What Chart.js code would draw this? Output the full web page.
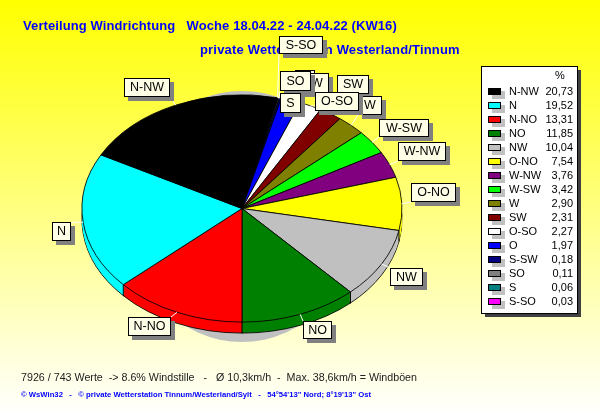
<!DOCTYPE html>
<html>
<head>
<meta charset="utf-8">
<title>Verteilung Windrichtung</title>
<script src="https://cdn.jsdelivr.net/npm/chart.js@4/dist/chart.umd.min.js"></script>
<style>
  html, body { margin: 0; padding: 0; overflow: hidden; }
  body { width: 600px; height: 415px; background: linear-gradient(#ffff00, #ffffff); }
  canvas { display: block; }
</style>
</head>
<body>
<canvas id="windChart" width="600" height="415"></canvas>
<script>
const directions = ['N-NW', 'N', 'N-NO', 'NO', 'NW', 'O-NO', 'W-NW', 'W-SW', 'W', 'SW', 'O-SO', 'O', 'S-SW', 'SO', 'S', 'S-SO'];
const percents = [20.73, 19.52, 13.31, 11.85, 10.04, 7.54, 3.76, 3.42, 2.90, 2.31, 2.27, 1.97, 0.18, 0.11, 0.06, 0.03];
const colors = ['#000000', '#00ffff', '#ff0000', '#008000', '#c0c0c0', '#ffff00', '#800080', '#00ff00', '#808000', '#800000', '#ffffff', '#0000ff', '#000080', '#808080', '#008080', '#ff00ff'];

// callout boxes, in drawing order: x, y, w, h
const callouts = {
  'O': [295, 70, 20, 20],
  'S-SW': [284, 73, 45, 20],
  'SO': [280, 71, 31, 20],
  'S-SO': [279, 36, 44, 18],
  'S': [280, 93, 21, 20],
  'SW': [337, 75, 32, 19],
  'W': [358, 96, 24, 19],
  'O-SO': [315, 92, 44, 19],
  'W-SW': [379, 119, 50, 18],
  'W-NW': [398, 142, 48, 19],
  'O-NO': [411, 183, 45, 19],
  'NW': [390, 268, 33, 18],
  'NO': [303, 321, 29, 18],
  'N-NO': [128, 317, 43, 19],
  'N': [52, 222, 19, 19],
  'N-NW': [124, 78, 46, 19]
};

const squash = 0.71;
const wallDepth = 11;

function squashed(ctx, arc, dy) {
  ctx.translate(arc.x, arc.y + dy);
  ctx.scale(1, squash);
  ctx.translate(-arc.x, -arc.y);
}

function rimPoint(arc, angle) {
  return [arc.x + Math.cos(angle) * arc.outerRadius, arc.y + Math.sin(angle) * arc.outerRadius * squash];
}

function drawLayer(ctx, arcs, dy, border) {
  arcs.forEach(function (arc) {
    const opts = arc.options;
    if (!border) arc.options = Object.assign({}, opts, { borderWidth: 0 });
    ctx.save();
    squashed(ctx, arc, dy);
    arc.draw(ctx);
    ctx.restore();
    arc.options = opts;
  });
}

const pie3d = {
  id: 'pie3d',
  beforeDatasetsDraw(chart) {
    const ctx = chart.ctx;
    const arcs = chart.getDatasetMeta(0).data;
    const c = arcs[0];

    // grey shadow behind the pie
    ctx.save();
    ctx.fillStyle = '#c0c0c0';
    ctx.beginPath();
    ctx.ellipse(c.x, c.y + 8, c.outerRadius * 0.72, c.outerRadius * squash + 12, 0, 0, Math.PI * 2);
    ctx.fill();
    ctx.restore();

    // side wall
    drawLayer(ctx, arcs, wallDepth, true);
    for (let d = wallDepth - 1; d > 0; d--) drawLayer(ctx, arcs, d, false);

    ctx.save();
    ctx.strokeStyle = '#000000';
    ctx.lineWidth = 1;
    arcs.forEach(function (arc) {
      const p = rimPoint(arc, arc.endAngle);
      if (p[1] > arc.y) {
        ctx.beginPath();
        ctx.moveTo(p[0], p[1]);
        ctx.lineTo(p[0], p[1] + wallDepth);
        ctx.stroke();
      }
    });
    ctx.restore();

    ctx.save();
    squashed(ctx, c, 0);
  },
  afterDatasetsDraw(chart) {
    chart.ctx.restore();
  }
};

const texts = {
  id: 'texts',
  beforeDatasetsDraw(chart) {
    const ctx = chart.ctx;
    ctx.save();
    ctx.textBaseline = 'alphabetic';
    ctx.textAlign = 'left';
    ctx.fillStyle = '#0000ff';
    ctx.font = 'bold 13px "Liberation Sans"';
    ctx.letterSpacing = '0.1px';
    ctx.fillText('Verteilung Windrichtung   Woche 18.04.22 - 24.04.22 (KW16)', 23, 30);
    ctx.letterSpacing = '0.18px';
    ctx.fillText('private Wetterstation Westerland/Tinnum', 200, 54);
    ctx.letterSpacing = '0px';
    ctx.fillStyle = '#202020';
    ctx.font = '10.7px "Liberation Sans"';
    ctx.fillText('7926 / 743 Werte  -> 8.6% Windstille   -   Ø 10,3km/h  -  Max. 38,6km/h = Windböen', 21, 381);
    ctx.fillStyle = '#0000ff';
    ctx.font = 'bold 7.7px "Liberation Sans"';
    ctx.fillText('© WsWin32   -   © private Wetterstation Tinnum/Westerland/Sylt   -   54°54\'13" Nord; 8°19\'13" Ost', 21, 397);
    ctx.restore();
  },
  afterDraw(chart) {
    const ctx = chart.ctx;
    const arcs = chart.getDatasetMeta(0).data;
    ctx.save();
    ctx.font = '12.5px "Liberation Sans"';
    ctx.textAlign = 'center';
    ctx.textBaseline = 'middle';

    // leader lines first, boxes on top
    ctx.strokeStyle = '#ffffff';
    ctx.lineWidth = 1;
    pieLabels.forEach(function (name, i) {
      const b = callouts[name];
      const arc = arcs[i];
      const p = rimPoint(arc, (arc.startAngle + arc.endAngle) / 2);
      ctx.beginPath();
      ctx.moveTo(p[0], p[1]);
      ctx.lineTo(Math.min(Math.max(p[0], b[0]), b[0] + b[2]), Math.min(Math.max(p[1], b[1]), b[1] + b[3]));
      ctx.stroke();
    });

    Object.keys(callouts).forEach(function (name) {
      const b = callouts[name];
      ctx.fillStyle = '#808080';
      ctx.fillRect(b[0] + 4, b[1] + 4, b[2], b[3]);
      ctx.fillStyle = '#ffffe8';
      ctx.fillRect(b[0], b[1], b[2], b[3]);
      ctx.strokeStyle = '#000000';
      ctx.strokeRect(b[0] + 0.5, b[1] + 0.5, b[2] - 1, b[3] - 1);
      ctx.fillStyle = '#000000';
      ctx.fillText(name, b[0] + b[2] / 2, b[1] + b[3] / 2 + 0.5);
    });

    // legend
    ctx.fillStyle = '#404040';
    ctx.fillRect(485, 70, 96, 247);
    ctx.fillStyle = '#ffffff';
    ctx.fillRect(481, 66, 97, 248);
    ctx.strokeStyle = '#000000';
    ctx.strokeRect(481.5, 66.5, 96, 247);
    ctx.font = '11px "Liberation Sans"';
    ctx.textBaseline = 'middle';
    ctx.textAlign = 'center';
    ctx.fillStyle = '#000000';
    ctx.fillText('%', 560, 76);
    directions.forEach(function (name, i) {
      const y = 92 + i * 14;
      ctx.fillStyle = '#c0c0c0';
      ctx.fillRect(492, y - 1, 13, 8);
      ctx.fillStyle = colors[i];
      ctx.fillRect(488, y - 4, 13, 7);
      ctx.strokeStyle = '#000000';
      ctx.strokeRect(488.5, y - 3.5, 12, 6);
      ctx.fillStyle = '#000000';
      ctx.textAlign = 'left';
      ctx.fillText(name, 509, y);
      ctx.textAlign = 'right';
      ctx.fillText(percents[i].toFixed(2).replace('.', ','), 573, y);
    });
    ctx.restore();
  }
};

// the pie runs the other way round than the legend
const pieLabels = directions.slice().reverse();

new Chart(document.getElementById('windChart'), {
  type: 'pie',
  data: {
    labels: pieLabels,
    datasets: [{
      data: percents.slice().reverse(),
      backgroundColor: colors.slice().reverse(),
      borderColor: '#000000',
      borderWidth: 1,
      hoverOffset: 0
    }]
  },
  options: {
    responsive: false,
    animation: false,
    rotation: 12.8,
    layout: { padding: { left: 81, right: 197, top: 48, bottom: 46 } },
    plugins: {
      legend: { display: false },
      tooltip: { enabled: false }
    }
  },
  plugins: [texts, pie3d]
});
</script>
</body>
</html>
